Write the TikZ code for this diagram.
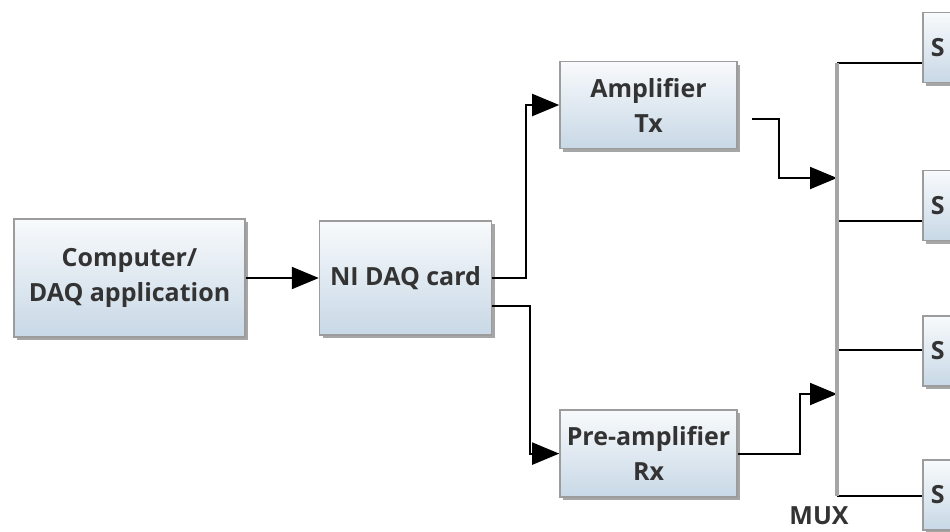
\documentclass[tikz,border=0pt]{standalone}
\usepackage{fontspec}
\setmainfont{Open Sans}
\usetikzlibrary{positioning,calc,arrows.meta,shadows}
\definecolor{boxtop}{HTML}{F8FAFC}
\definecolor{boxbot}{HTML}{C8D8E6}
\definecolor{boxline}{HTML}{9C9C9C}
\definecolor{boxtext}{HTML}{333333}

\begin{document}
\begin{tikzpicture}[x=1pt,y=-1pt]
  \fill[white] (0,0) rectangle (950,531);
  \useasboundingbox (0,0) rectangle (950,531);
  \coordinate (bustop) at (837,63);
  \coordinate (busbot) at (837,496);
  \coordinate (tx)     at (837,178);
  \coordinate (rx)     at (837,394);
  \coordinate (tap2)   at (837,221);
  \coordinate (tap3)   at (837,350);
  \begin{scope}[
    every node/.style={
      align=center,
      anchor=center,
      font=\fontsize{25}{35}\selectfont\bfseries,
      text=boxtext,
      draw=boxline,
      line width=1.6pt,
      top color=boxtop,
      bottom color=boxbot,
      inner sep=0pt,
      drop shadow={shadow xshift=3pt,shadow yshift=-3pt,fill=black,opacity=0.35},
    },
    ]
    \node[minimum width=231pt,minimum height=118pt] (comp) at (129.5,278)
      {Computer/\\DAQ application};
    \node[minimum width=172pt,minimum height=114pt,right=73pt of comp] (daq)
      {NI DAQ card};
    \node[minimum width=177pt,minimum height=87pt] (amp) at (648.5,105)
      {Amplifier\\Tx};
    \node[minimum width=177pt,minimum height=87pt,below=260pt of amp] (pre)
      {Pre-amplifier\\Rx};
  \end{scope}
  \begin{scope}[
    every node/.style={
      anchor=west,
      align=left,
      font=\fontsize{25}{35}\selectfont\bfseries,
      text=boxtext,
      draw=boxline,
      line width=1.6pt,
      top color=boxtop,
      bottom color=boxbot,
      inner xsep=8pt,
      text width=62pt,
      minimum height=70pt,
      drop shadow={shadow xshift=3pt,shadow yshift=-3pt,fill=black,opacity=0.35},
    },
    ]
    \node (s1) at (922,47.5) {S};
    \node (s2) at (922,205.5) {S};
    \node (s3) at (922,351) {S};
    \node (s4) at (922,495) {S};
  \end{scope}
  \begin{scope}[
    every path/.style={draw,line width=2pt,>={Triangle[length=27pt,width=22pt]}},
    ]
    \path[->] (comp) edge (daq);
    \path[->] (daq.east) -- ++(34,0) |- (amp.west);
    \path[->] ([yshift=-28pt]daq.east) -- ++(38,0) |- (pre.west);
    \path[->] ([xshift=14pt,yshift=-14pt]amp.east) -- ++(27,0) |- (tx);
    \path[->] (pre.east) -- ++(62,0) |- (rx);
    \path (bustop) -- (s1.west |- bustop);
    \path (tap2)   -- (s2.west |- tap2);
    \path (tap3)   -- (s3.west |- tap3);
    \path (busbot) -- (s4.west |- busbot);
  \end{scope}
  \draw[line width=3.2pt,draw=gray!70] (bustop) -- (busbot);
  \node[anchor=base,font=\fontsize{25}{35}\selectfont\bfseries,text=boxtext]
    (mux) at (819,524) {MUX};
\end{tikzpicture}
\end{document}
